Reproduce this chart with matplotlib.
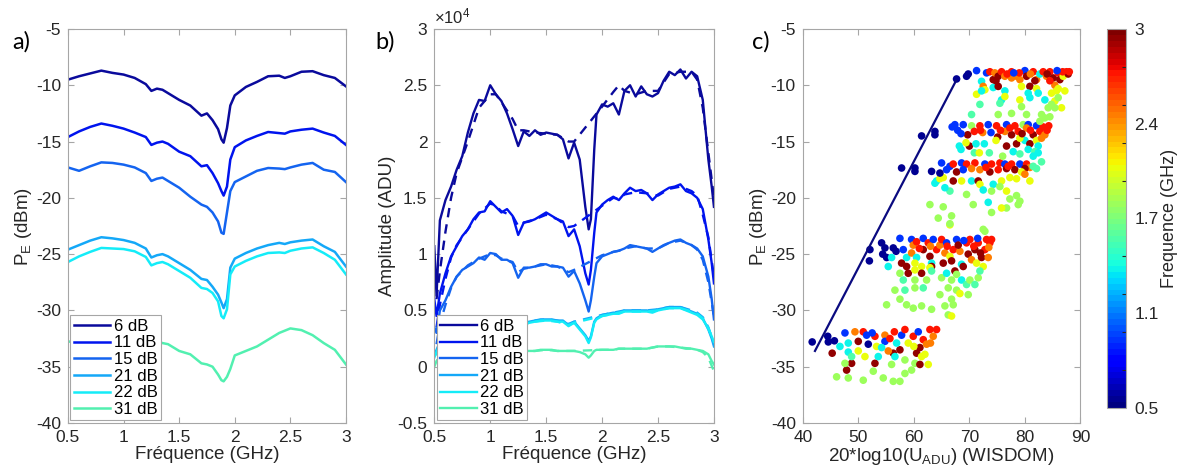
import numpy as np
import matplotlib
matplotlib.use("Agg")
import matplotlib.pyplot as plt

plt.rcParams['font.family'] = ['Liberation Sans', 'DejaVu Sans']
plt.rcParams['axes.unicode_minus'] = False
plt.rcParams['mathtext.fontset'] = 'custom'
plt.rcParams['mathtext.rm'] = 'Liberation Sans'

# ---------------- data ----------------
labels = ['6 dB', '11 dB', '15 dB', '21 dB', '22 dB', '31 dB']
colors = ['#0a0a9c', '#0014ee', '#1464f0', '#14a8f8', '#14ecf8', '#52f0b0']

# panel a : P_E (dBm) vs frequency (GHz)
f_a = [0.5, 0.6, 0.7, 0.8, 0.9, 1.0, 1.1, 1.2, 1.25, 1.3, 1.35, 1.4, 1.5, 1.6, 1.7, 1.75, 1.8,
       1.85, 1.88, 1.9, 1.93, 1.96, 2.0, 2.1, 2.2, 2.3, 2.4, 2.45, 2.5, 2.6, 2.7, 2.8, 2.9, 3.0]
pe_6 = [-9.5, -9.2, -8.95, -8.7, -8.9, -9.05, -9.35, -9.9, -10.5, -10.3, -10.4, -10.7, -11.3, -11.8,
        -12.7, -12.5, -13.1, -13.9, -14.8, -15.1, -13.8, -11.8, -10.9, -10.15, -9.7, -9.2, -9.15,
        -9.35, -9.2, -8.8, -8.75, -9.1, -9.35, -10.1]
pe_11 = [-14.6, -14.1, -13.7, -13.4, -13.6, -13.85, -14.2, -14.6, -15.3, -15.1, -15.0, -15.2, -15.9,
         -16.3, -17.2, -17.1, -17.8, -18.7, -19.4, -19.8, -19.0, -16.6, -15.5, -14.9, -14.5, -14.15,
         -14.25, -14.3, -14.1, -13.95, -13.85, -14.2, -14.5, -15.3]
pe_15 = [-17.3, -17.6, -17.2, -16.85, -16.9, -17.05, -17.3, -17.8, -18.5, -18.3, -18.2, -18.5, -19.1,
         -19.9, -20.6, -20.8, -21.3, -22.1, -23.1, -23.2, -21.3, -19.4, -18.6, -18.1, -17.6, -17.35,
         -17.4, -17.45, -17.3, -17.05, -16.9, -17.5, -17.7, -18.6]
pe_21 = [-24.6, -24.2, -23.8, -23.5, -23.6, -23.75, -24.0, -24.5, -25.3, -25.1, -25.0, -25.2, -25.8,
         -26.4, -27.2, -27.3, -27.9, -28.6, -29.3, -29.8, -29.0, -26.2, -25.4, -24.9, -24.5, -24.2,
         -24.0, -24.1, -23.95, -23.8, -23.7, -24.3, -24.8, -26.1]
pe_22 = [-25.7, -25.2, -24.8, -24.45, -24.5, -24.55, -24.75, -25.25, -26.0, -25.8, -25.7, -25.9, -26.5,
         -27.1, -28.0, -28.1, -28.45, -29.2, -30.5, -30.7, -29.9, -26.8, -26.1, -25.6, -25.2, -24.9,
         -24.85, -24.9, -24.7, -24.5, -24.4, -24.9, -25.5, -26.8]
pe_31 = [-32.8, -32.6, -32.4, -32.3, -32.3, -32.4, -32.5, -32.6, -33.0, -32.75, -32.9, -33.0, -33.6,
         -33.9, -34.7, -34.8, -35.0, -35.7, -36.2, -36.3, -35.9, -35.2, -34.0, -33.6, -33.2, -32.6,
         -32.0, -31.8, -31.6, -31.75, -32.2, -32.9, -33.5, -34.8]

# panel b : amplitude (x1e4 ADU) vs frequency, measured (solid) and model (dashed)
f_b = [0.5, 0.52, 0.55, 0.6, 0.65, 0.7, 0.75, 0.8, 0.85, 0.9, 0.95, 1.0, 1.05, 1.1, 1.15, 1.2, 1.25,
       1.3, 1.35, 1.4, 1.45, 1.5, 1.55, 1.6, 1.65, 1.7, 1.75, 1.8, 1.85, 1.88, 1.9, 1.93, 1.95, 2.0,
       2.05, 2.1, 2.15, 2.2, 2.25, 2.3, 2.35, 2.4, 2.45, 2.5, 2.55, 2.6, 2.65, 2.7, 2.75, 2.8, 2.85,
       2.9, 2.95, 2.98, 3.0]
amp_6 = [1.07, 0.63, 1.3, 1.48, 1.6, 1.75, 1.87, 2.08, 2.25, 2.37, 2.36, 2.5, 2.42, 2.36, 2.25, 2.11,
         1.96, 2.09, 2.05, 2.1, 2.06, 2.08, 2.07, 2.06, 2.02, 1.85, 1.99, 1.84, 1.42, 1.22, 1.31, 1.93,
         2.24, 2.33, 2.31, 2.34, 2.24, 2.45, 2.5, 2.4, 2.49, 2.42, 2.4, 2.43, 2.54, 2.62, 2.59, 2.64,
         2.56, 2.62, 2.58, 2.37, 1.84, 1.6, 1.42]
amp_11 = [0.6, 0.45, 0.65, 0.83, 0.98, 1.07, 1.16, 1.22, 1.31, 1.37, 1.38, 1.47, 1.42, 1.37, 1.4,
          1.34, 1.17, 1.28, 1.29, 1.31, 1.34, 1.37, 1.34, 1.31, 1.29, 1.16, 1.22, 1.07, 0.83, 0.73,
          0.86, 1.19, 1.37, 1.44, 1.48, 1.51, 1.48, 1.54, 1.59, 1.56, 1.57, 1.54, 1.48, 1.53, 1.56,
          1.59, 1.6, 1.62, 1.56, 1.54, 1.5, 1.4, 1.13, 0.92, 0.74]
amp_15 = [0.35, 0.3, 0.5, 0.59, 0.71, 0.8, 0.86, 0.89, 0.92, 0.97, 0.95, 1.01, 1.0, 0.95, 0.95, 0.92,
          0.79, 0.88, 0.88, 0.89, 0.91, 0.91, 0.89, 0.89, 0.88, 0.8, 0.85, 0.74, 0.59, 0.49, 0.59,
          0.8, 0.92, 0.98, 1.0, 1.02, 1.03, 1.05, 1.08, 1.07, 1.06, 1.05, 1.02, 1.05, 1.08, 1.1, 1.12,
          1.13, 1.1, 1.08, 1.05, 0.98, 0.8, 0.6, 0.42]
amp_21 = [0.1, 0.15, 0.22, 0.28, 0.32, 0.35, 0.37, 0.39, 0.4, 0.41, 0.41, 0.43, 0.42, 0.42, 0.41,
          0.41, 0.34, 0.39, 0.4, 0.41, 0.42, 0.42, 0.42, 0.41, 0.41, 0.37, 0.4, 0.34, 0.28, 0.23, 0.27,
          0.4, 0.43, 0.46, 0.47, 0.48, 0.48, 0.5, 0.5, 0.5, 0.5, 0.5, 0.49, 0.51, 0.52, 0.53, 0.53,
          0.53, 0.51, 0.49, 0.47, 0.43, 0.33, 0.25, 0.18]
amp_22 = [0.08, 0.13, 0.2, 0.27, 0.31, 0.34, 0.36, 0.38, 0.39, 0.4, 0.4, 0.42, 0.41, 0.41, 0.4, 0.4,
          0.35, 0.38, 0.39, 0.4, 0.41, 0.41, 0.41, 0.4, 0.4, 0.36, 0.39, 0.33, 0.27, 0.21, 0.26, 0.39,
          0.42, 0.45, 0.46, 0.47, 0.47, 0.49, 0.49, 0.49, 0.49, 0.49, 0.48, 0.5, 0.51, 0.52, 0.52,
          0.52, 0.5, 0.48, 0.46, 0.42, 0.34, 0.27, 0.22]
amp_31 = [0.0, 0.05, 0.08, 0.1, 0.11, 0.12, 0.13, 0.13, 0.14, 0.14, 0.14, 0.15, 0.15, 0.15, 0.15,
          0.15, 0.13, 0.14, 0.14, 0.14, 0.15, 0.15, 0.15, 0.14, 0.14, 0.14, 0.14, 0.13, 0.11, 0.08,
          0.1, 0.14, 0.15, 0.15, 0.15, 0.15, 0.16, 0.16, 0.16, 0.16, 0.16, 0.16, 0.17, 0.18, 0.18,
          0.18, 0.18, 0.17, 0.16, 0.16, 0.15, 0.14, 0.11, 0.05, 0.02]

f_fit = [0.52, 0.55, 0.6, 0.65, 0.7, 0.8, 0.9, 1.0, 1.05, 1.1, 1.2, 1.25, 1.3, 1.4, 1.5, 1.6, 1.7,
         1.75, 2.0, 2.1, 2.15, 2.2, 2.3, 2.4, 2.5, 2.6, 2.7, 2.8, 2.85, 2.9, 2.95, 3.0]
fit_6 = [0.6, 0.85, 1.2, 1.5, 1.72, 2.0, 2.3, 2.42, 2.42, 2.35, 2.2, 2.1, 2.1, 2.08, 2.07, 2.06, 2.0,
         2.0, 2.31, 2.44, 2.5, 2.45, 2.42, 2.45, 2.45, 2.6, 2.62, 2.62, 2.55, 2.3, 1.9, 1.5]
fit_11 = [0.35, 0.55, 0.78, 0.97, 1.08, 1.22, 1.36, 1.45, 1.43, 1.38, 1.34, 1.25, 1.28, 1.31, 1.35,
          1.31, 1.24, 1.25, 1.43, 1.5, 1.49, 1.53, 1.55, 1.54, 1.52, 1.58, 1.6, 1.56, 1.52, 1.35,
          1.15, 0.8]
fit_15 = [0.2, 0.38, 0.55, 0.7, 0.8, 0.9, 0.96, 1.0, 0.99, 0.96, 0.93, 0.84, 0.87, 0.89, 0.91, 0.89,
          0.84, 0.86, 0.99, 1.02, 1.03, 1.05, 1.07, 1.05, 1.05, 1.1, 1.12, 1.08, 1.04, 0.95, 0.75,
          0.45]
fit_21 = [0.12, 0.2, 0.27, 0.31, 0.34, 0.38, 0.4, 0.42, 0.42, 0.42, 0.41, 0.36, 0.38, 0.41, 0.42,
          0.41, 0.38, 0.4, 0.46, 0.48, 0.49, 0.5, 0.5, 0.5, 0.51, 0.53, 0.53, 0.5, 0.48, 0.44, 0.35,
          0.2]
fit_22 = [0.1, 0.18, 0.26, 0.3, 0.33, 0.37, 0.39, 0.41, 0.41, 0.41, 0.4, 0.36, 0.37, 0.4, 0.41, 0.4,
          0.37, 0.39, 0.45, 0.47, 0.48, 0.49, 0.49, 0.49, 0.5, 0.52, 0.52, 0.49, 0.47, 0.43, 0.34,
          0.22]
fit_31 = [0.05, 0.08, 0.1, 0.11, 0.12, 0.13, 0.14, 0.15, 0.15, 0.15, 0.15, 0.14, 0.14, 0.14, 0.15,
          0.14, 0.14, 0.14, 0.15, 0.15, 0.16, 0.16, 0.16, 0.16, 0.18, 0.18, 0.17, 0.16, 0.15, 0.13,
          0.08, -0.04]

# panel c : (20*log10(U_ADU), P_E, frequency GHz)
pts_6db = [
    (67.7, -9.44, 0.55), (69.5, -9.2, 0.55), (69.8, -9.0, 0.55), (71.3, -8.7, 0.95), (73.1, -8.9, 0.95),
    (73.7, -8.8, 2.7), (74.3, -9.5, 2.95), (74.6, -8.9, 2.45), (75.2, -9.2, 2.95), (75.8, -8.8, 2.7),
    (76.4, -9.2, 2.45), (77.6, -8.8, 2.7), (77.6, -9.35, 2.45), (78.5, -9.2, 2.45), (80.0, -8.7, 0.95),
    (80.3, -9.2, 2.95), (80.9, -10.1, 2.95), (81.5, -8.8, 2.7), (82.1, -9.5, 2.45), (82.7, -9.0, 1.4),
    (83.3, -8.8, 2.7), (83.9, -9.2, 2.45), (84.5, -8.8, 2.7), (85.1, -9.35, 2.95), (86.0, -8.9, 2.7),
    (86.3, -9.5, 2.95), (86.9, -9.2, 2.1), (87.5, -8.8, 2.7), (87.8, -9.0, 2.95), (72.2, -9.65, 1.4),
    (72.5, -10.1, 2.45), (72.8, -10.4, 2.1), (71.3, -10.8, 2.1), (72.2, -10.5, 1.4), (74.3, -10.2, 1.4),
    (75.2, -10.1, 2.95), (76.4, -10.5, 1.4), (75.8, -11.3, 1.4), (76.4, -11.0, 2.1), (79.1, -9.5, 2.45),
    (79.4, -10.1, 2.1), (79.1, -11.3, 2.1), (80.6, -10.7, 1.4), (80.9, -11.1, 1.4), (82.1, -10.3, 2.1),
    (82.4, -10.7, 1.4), (83.6, -11.3, 1.4), (84.8, -10.7, 2.1), (85.4, -10.0, 2.45), (85.7, -10.5, 2.1),
    (86.0, -10.3, 2.1), (87.2, -10.5, 2.1), (85.4, -11.4, 2.1), (86.0, -11.1, 1.85), (84.8, -11.7, 1.85),
    (84.2, -12.0, 1.85), (86.6, -12.0, 2.1), (85.4, -12.0, 1.85), (84.5, -12.8, 1.85), (71.9, -11.7, 1.6),
    (75.5, -11.6, 1.6), (79.4, -11.9, 1.85), (77.6, -12.5, 1.85), (75.2, -12.6, 1.85), (70.4, -12.6, 1.6),
    (80.3, -12.6, 1.85), (83.0, -12.6, 1.85), (83.6, -12.9, 1.85), (82.7, -13.2, 1.85), (76.8, -9.0, 2.7),
    (79.0, -8.9, 2.7), (81.0, -9.0, 2.45), (84.0, -9.0, 2.95), (86.8, -8.8, 2.7), (88.0, -8.8, 2.7),
    (78.0, -8.9, 0.95), (85.8, -8.7, 0.95), (74.8, -9.6, 2.95), (81.8, -9.6, 2.95), (84.5, -9.6, 2.7)]

pts_11db = [
    (67.4, -13.5, 0.95), (68.9, -13.5, 0.95), (70.4, -13.6, 1.85), (71.9, -13.6, 2.7), (73.4, -13.5, 0.95),
    (74.9, -13.6, 2.7), (76.7, -13.5, 0.95), (78.2, -13.6, 2.7), (79.7, -13.5, 1.85), (80.6, -13.5, 0.95),
    (82.1, -13.6, 0.95), (83.3, -13.7, 2.7), (67.9, -14.0, 0.95), (69.7, -14.4, 2.95), (70.9, -14.1, 2.7),
    (72.4, -14.2, 2.45), (73.9, -14.2, 0.95), (75.1, -14.6, 2.95), (76.4, -14.1, 2.45), (77.6, -14.4, 2.95),
    (78.8, -14.1, 2.7), (80.3, -13.8, 2.45), (81.5, -14.4, 2.95), (82.7, -14.1, 2.7), (83.6, -14.4, 2.45),
    (68.2, -15.4, 1.4), (70.0, -15.4, 2.95), (69.4, -15.1, 2.1), (71.2, -15.2, 1.4), (72.7, -15.2, 1.4),
    (74.8, -14.9, 2.1), (76.7, -15.4, 2.95), (78.5, -15.2, 2.95), (80.0, -14.9, 1.4), (80.9, -15.2, 2.95),
    (82.1, -14.9, 2.1), (83.0, -14.7, 2.45), (82.4, -15.4, 1.4), (79.1, -14.7, 2.1), (68.5, -15.7, 1.4),
    (70.9, -16.0, 1.6), (71.8, -16.0, 2.1), (73.6, -16.0, 1.6), (76.0, -16.3, 1.85), (77.9, -15.9, 1.4),
    (79.1, -16.1, 1.6), (80.6, -15.7, 1.4), (81.8, -15.9, 1.6), (82.4, -16.0, 1.4), (81.5, -16.3, 1.4),
    (83.0, -16.8, 1.6), (84.3, -13.6, 2.7), (84.0, -14.0, 2.7), (77.3, -13.8, 2.7), (75.6, -14.0, 2.7),
    (72.0, -14.0, 2.7), (66.9, -13.7, 0.95), (68.5, -14.3, 0.95), (79.5, -14.3, 2.95), (81.0, -14.0, 2.7)]

pts_15db = [
    (65.0, -16.9, 0.95), (66.5, -17.2, 0.95), (67.1, -17.0, 2.7), (68.6, -16.9, 0.95), (69.5, -17.0, 2.7),
    (71.0, -16.9, 2.7), (72.8, -17.0, 0.95), (74.0, -17.0, 2.7), (75.5, -16.9, 2.7), (76.4, -17.0, 0.95),
    (77.6, -17.0, 2.7), (79.1, -17.0, 0.95), (80.3, -17.0, 2.7), (80.9, -17.3, 2.45), (65.9, -17.5, 0.95),
    (67.7, -17.7, 2.95), (68.9, -17.5, 0.95), (70.4, -17.4, 2.45), (71.9, -17.5, 2.45), (73.7, -17.7, 2.95),
    (75.2, -17.5, 2.7), (76.7, -17.4, 2.95), (78.2, -17.5, 2.95), (80.0, -17.4, 2.95), (79.4, -17.7, 2.1),
    (64.1, -18.5, 1.4), (65.3, -18.2, 2.1), (67.1, -18.5, 2.95), (68.6, -18.5, 2.1), (70.4, -18.5, 1.4),
    (71.6, -18.5, 2.95), (71.9, -18.8, 2.1), (74.3, -18.8, 1.4), (75.8, -18.5, 2.1), (77.3, -18.2, 2.1),
    (78.5, -18.3, 2.1), (80.0, -17.9, 2.45), (81.5, -17.2, 1.6), (82.1, -17.4, 1.6), (80.9, -18.5, 2.1),
    (66.5, -19.4, 1.6), (69.5, -19.7, 1.85), (72.5, -19.3, 1.4), (74.0, -19.4, 1.85), (75.5, -19.0, 1.85),
    (76.7, -19.4, 2.1), (77.3, -20.1, 1.85), (78.5, -19.8, 1.85), (79.1, -20.3, 1.85), (76.7, -20.9, 1.85),
    (75.8, -20.9, 2.1), (74.0, -21.3, 1.85), (78.8, -20.6, 1.85), (62.9, -20.6, 1.85), (65.3, -20.8, 1.85),
    (70.7, -20.6, 1.85), (73.4, -20.4, 1.4), (64.4, -21.8, 1.85), (66.8, -21.6, 1.85), (66.5, -22.3, 1.85),
    (65.6, -19.1, 1.4), (63.8, -18.7, 1.4), (64.7, -18.3, 2.1), (73.0, -17.3, 2.7), (77.0, -17.2, 2.7)]

pts_21db = [
    (52.1, -24.6, 0.55), (52.0, -25.6, 0.55), (54.2, -24.0, 0.55), (54.8, -24.45, 0.55), (54.4, -25.0, 0.55),
    (55.1, -25.3, 0.55), (56.3, -24.45, 0.55), (56.8, -24.75, 0.55), (57.5, -23.6, 0.95), (56.0, -25.3, 1.4),
    (55.4, -26.1, 1.4), (58.1, -24.6, 0.95), (58.7, -25.3, 1.4), (57.8, -25.8, 2.95), (58.7, -26.1, 2.95),
    (59.0, -26.7, 2.95), (59.6, -23.7, 0.95), (59.9, -24.2, 2.45), (59.6, -24.9, 2.45), (60.5, -23.9, 2.7),
    (60.5, -25.3, 1.4), (60.2, -25.8, 2.1), (61.4, -26.1, 2.1), (61.4, -26.7, 2.95), (61.7, -23.6, 0.95),
    (61.7, -24.6, 2.95), (62.6, -24.0, 2.7), (62.9, -25.2, 2.95), (63.2, -25.8, 1.4), (63.2, -26.1, 2.95),
    (63.5, -23.7, 0.95), (64.1, -24.6, 2.7), (64.7, -24.2, 2.45), (65.0, -23.7, 2.7), (65.3, -25.8, 2.95),
    (65.6, -24.9, 2.45), (65.9, -24.0, 0.95), (66.5, -25.2, 2.1), (66.8, -25.6, 2.95), (67.1, -24.6, 2.7),
    (67.4, -26.5, 2.95), (67.7, -23.7, 0.95), (68.3, -24.75, 2.45), (68.6, -25.9, 1.4), (68.9, -26.1, 2.95),
    (69.5, -24.0, 2.7), (69.8, -25.0, 2.95), (70.1, -23.7, 2.7), (70.4, -25.5, 2.45), (71.0, -24.6, 2.95),
    (71.3, -25.8, 2.1), (71.6, -24.0, 2.7), (72.2, -25.3, 2.95), (72.5, -26.1, 2.1), (72.8, -24.6, 2.7),
    (73.1, -23.7, 2.7), (73.7, -24.0, 2.7), (74.0, -23.7, 2.7), (73.4, -25.3, 2.45), (72.8, -22.97, 1.85),
    (72.5, -22.8, 1.85), (66.5, -22.4, 2.1), (66.0, -24.3, 2.7), (68.0, -24.2, 2.95), (70.8, -24.3, 2.7),
    (72.0, -24.9, 2.95), (73.5, -24.4, 2.45), (63.0, -24.3, 2.45), (61.0, -24.5, 2.7), (69.0, -23.8, 0.95),
    (71.5, -23.6, 0.95),
    (57.5, -26.7, 1.85), (58.1, -27.3, 1.6), (60.2, -26.4, 2.1), (62.9, -26.2, 2.1), (60.2, -27.3, 1.85),
    (62.3, -27.3, 1.85), (63.2, -26.5, 1.6), (65.0, -27.1, 1.85), (65.9, -26.7, 1.4), (66.8, -27.3, 1.85),
    (67.7, -26.8, 1.85), (68.6, -27.3, 1.4), (69.5, -27.7, 1.6), (70.1, -27.3, 1.85), (71.0, -27.7, 1.6),
    (71.6, -27.1, 1.85), (71.9, -26.5, 1.6), (67.7, -28.2, 1.85), (68.3, -28.5, 2.1), (69.8, -28.6, 1.85),
    (66.8, -29.0, 1.85), (67.1, -29.5, 1.85), (65.6, -29.6, 1.85), (66.2, -30.4, 1.85), (66.8, -30.5, 2.1),
    (63.2, -29.9, 1.85), (61.4, -29.6, 1.85), (59.9, -29.8, 1.85), (58.7, -29.5, 1.85), (57.5, -29.0, 1.85),
    (56.6, -28.2, 1.85), (58.4, -28.2, 1.6), (60.2, -28.0, 1.85), (61.7, -28.0, 1.6), (64.7, -28.6, 1.85),
    (55.1, -29.5, 1.85), (66.2, -28.0, 1.85)]

pts_31db = [
    (41.7, -32.8, 0.55), (44.5, -32.3, 0.55), (44.6, -32.8, 0.55), (45.7, -32.7, 0.55), (45.3, -33.8, 2.95),
    (46.7, -33.2, 1.4), (47.6, -32.0, 0.95), (48.2, -32.9, 1.4), (48.2, -33.7, 1.4), (49.4, -31.9, 2.45),
    (50.0, -32.75, 2.95), (50.0, -33.6, 2.1), (50.9, -31.9, 2.7), (51.5, -32.2, 0.95), (51.8, -33.0, 0.55),
    (53.0, -32.3, 2.7), (53.3, -33.2, 2.1), (54.8, -32.2, 2.45), (54.8, -32.75, 0.95), (55.7, -32.5, 2.7),
    (56.3, -33.8, 2.95), (55.4, -33.6, 2.45), (57.5, -33.5, 2.95), (57.8, -32.2, 0.95), (58.4, -31.7, 2.7),
    (59.0, -32.9, 2.1), (59.9, -32.3, 2.7), (60.5, -33.8, 2.95), (61.1, -33.3, 2.95), (61.7, -32.6, 2.7),
    (62.3, -33.0, 2.45), (62.9, -31.7, 2.7), (63.5, -32.3, 2.45), (64.1, -31.7, 2.7), (54.2, -33.3, 1.4),
    (56.9, -32.9, 1.4), (47.9, -35.3, 2.95), (48.8, -34.7, 2.95), (48.8, -34.1, 1.6), (47.6, -34.7, 1.85),
    (51.2, -34.1, 2.1), (53.0, -34.7, 2.95), (53.6, -34.1, 1.4), (56.0, -34.8, 1.85), (56.6, -34.1, 1.4),
    (58.4, -34.4, 1.85), (60.2, -34.7, 1.85), (61.1, -34.8, 2.95), (62.6, -34.8, 2.1), (61.4, -34.1, 2.1),
    (46.1, -35.9, 1.85), (48.2, -36.0, 1.85), (50.9, -36.2, 1.85), (52.7, -35.4, 1.85), (54.5, -36.0, 1.85),
    (56.3, -36.3, 1.85), (57.5, -36.3, 1.85), (58.4, -35.6, 1.85), (59.6, -35.3, 1.85), (52.5, -32.0, 0.95),
    (56.5, -31.9, 2.7), (60.8, -31.9, 0.95), (63.0, -32.9, 2.45), (60.0, -33.2, 2.1), (62.0, -33.9, 2.1)]

pts_low = [
    (61.4, -14.5, 0.55), (63.8, -14.1, 0.55), (63.8, -14.4, 0.55), (57.8, -17.35, 0.55),
    (60.2, -17.35, 0.55), (60.2, -17.65, 0.55), (63.2, -17.65, 0.55), (64.7, -17.8, 0.55)]

fit_line_x = [42.2, 67.6]
fit_line_y = [-33.6, -9.6]

cbar_ticks = [0.5, 1.125, 1.75, 2.375, 3.0]
cbar_labels = ['0.5', '1.1', '1.7', '2.4', '3']

# ---------------- figure ----------------
fig = plt.figure(figsize=(11.84, 4.75), dpi=100)
ax_a = fig.add_axes([0.0574, 0.1095, 0.2348, 0.8295])
ax_b = fig.add_axes([0.3668, 0.1095, 0.2362, 0.8295])
ax_c = fig.add_axes([0.6780, 0.1095, 0.2345, 0.8295])
cax = fig.add_axes([0.9350, 0.1410, 0.0160, 0.7980])

grey = '#262626'
fmt = lambda v, p: '%g' % v


def style(ax):
    for s in ax.spines.values():
        s.set_color('#a6a6a6')
        s.set_linewidth(0.8)
    ax.tick_params(direction='in', top=True, right=True, length=4, width=0.8,
                   color='#a6a6a6', labelcolor=grey, labelsize=12.5, pad=5)
    ax.xaxis.set_major_formatter(plt.FuncFormatter(fmt))
    ax.yaxis.set_major_formatter(plt.FuncFormatter(fmt))


pe_all = [pe_6, pe_11, pe_15, pe_21, pe_22, pe_31]
for vals, c, lab in zip(pe_all, colors, labels):
    ax_a.plot(f_a, vals, color=c, lw=1.8, label=lab)
ax_a.set_xlim(0.5, 3)
ax_a.set_ylim(-40, -5)
ax_a.set_xticks([0.5, 1, 1.5, 2, 2.5, 3])
ax_a.set_yticks(np.arange(-40, -4, 5))
ax_a.set_xlabel('Fréquence (GHz)', fontsize=13.5, color=grey, labelpad=1)
ax_a.set_ylabel(r'$\mathregular{P_E}$ (dBm)', fontsize=13.5, color=grey, labelpad=1)
style(ax_a)

amp_all = [amp_6, amp_11, amp_15, amp_21, amp_22, amp_31]
fit_all = [fit_6, fit_11, fit_15, fit_21, fit_22, fit_31]
for vals, fit, c, lab in zip(amp_all, fit_all, colors, labels):
    ax_b.plot(f_b, vals, color=c, lw=1.7, label=lab)
    ax_b.plot(f_fit, fit, color=c, lw=1.7, ls=(0, (4, 3)))
ax_b.set_xlim(0.5, 3)
ax_b.set_ylim(-0.5, 3)
ax_b.set_xticks([0.5, 1, 1.5, 2, 2.5, 3])
ax_b.set_yticks(np.arange(-0.5, 3.01, 0.5))
ax_b.set_xlabel('Fréquence (GHz)', fontsize=13.5, color=grey, labelpad=1)
ax_b.set_ylabel('Amplitude (ADU)', fontsize=13.5, color=grey, labelpad=1)
ax_b.text(0.0, 1.006, r'$\mathregular{\times10^{4}}$', transform=ax_b.transAxes,
          ha='left', va='bottom', fontsize=12, color=grey)
style(ax_b)

for ax in (ax_a, ax_b):
    leg = ax.legend(loc='lower left', bbox_to_anchor=(0.0, 0.0), borderaxespad=0.15,
                    fontsize=12, handlelength=2.2, handletextpad=0.2, labelspacing=0.1,
                    borderpad=0.2, fancybox=False, framealpha=1)
    leg.get_frame().set_edgecolor('#a6a6a6')
    leg.get_frame().set_linewidth(0.8)
    for t in leg.get_texts():
        t.set_color('#000000')

cmap = plt.get_cmap('jet', 64)
all_pts = pts_31db + pts_21db + pts_15db + pts_11db + pts_6db + pts_low
px = [p[0] for p in all_pts]
py = [p[1] for p in all_pts]
pf = [p[2] for p in all_pts]
ax_c.plot(fit_line_x, fit_line_y, color='#0a0a80', lw=1.6, zorder=3)
sc = ax_c.scatter(px, py, c=pf, cmap=cmap, vmin=0.5, vmax=3, s=30, edgecolors='none', zorder=2)
ax_c.set_xlim(40, 90)
ax_c.set_ylim(-40, -5)
ax_c.set_xticks(np.arange(40, 91, 10))
ax_c.set_yticks(np.arange(-40, -4, 5))
ax_c.set_xlabel(r'20*log10($\mathregular{U_{ADU}}$) (WISDOM)', fontsize=13.5, color=grey, labelpad=1)
ax_c.set_ylabel(r'$\mathregular{P_E}$ (dBm)', fontsize=13.5, color=grey, labelpad=1)
style(ax_c)

cb = fig.colorbar(sc, cax=cax)
cb.outline.set_edgecolor('#a6a6a6')
cb.outline.set_linewidth(0.8)
cb.set_ticks(cbar_ticks, labels=cbar_labels)
cax.tick_params(which='major', length=0, labelsize=12.5, labelcolor=grey, pad=6)
cax.set_yticks(np.arange(0.75, 2.9, 0.25), minor=True)
cax.tick_params(which='minor', direction='in', length=3, color=grey, width=0.8)
cb.set_label('Frequence (GHz)', fontsize=13, color=grey, labelpad=2)

for txt, xpos in (('a)', 0.010), ('b)', 0.317), ('c)', 0.635)):
    fig.text(xpos, 0.898, txt, fontsize=17, family=['Lato', 'DejaVu Sans'], color='black')

fig.savefig('out.png', dpi=100)
